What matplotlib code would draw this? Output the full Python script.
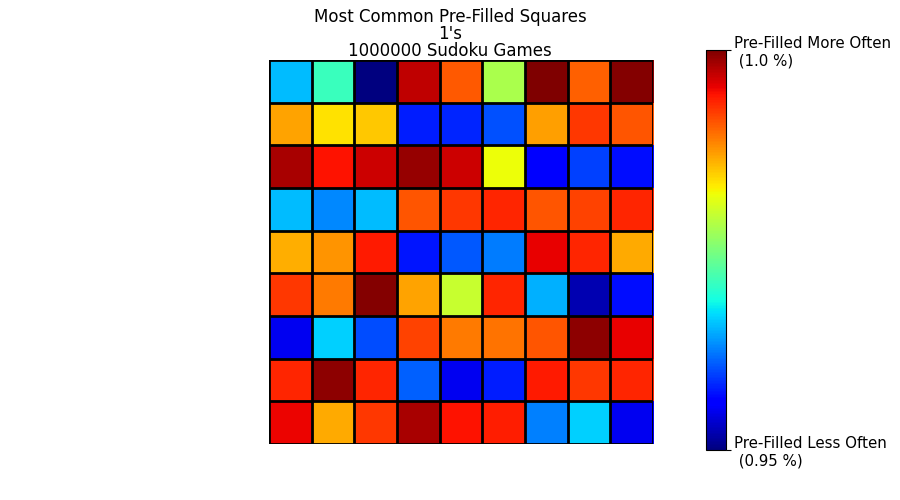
import numpy as np
import matplotlib
matplotlib.use('Agg')
import matplotlib.pyplot as plt

# how often a 1 is pre-filled in each square, % of games
pct = [
    [0.9655, 0.9710, 0.9500, 0.9972, 0.9908, 0.9779, 1.0000, 0.9903, 0.9998],
    [0.9868, 0.9834, 0.9849, 0.9577, 0.9582, 0.9602, 0.9870, 0.9924, 0.9910],
    [0.9982, 0.9945, 0.9965, 0.9990, 0.9965, 0.9820, 0.9560, 0.9595, 0.9570],
    [0.9655, 0.9629, 0.9655, 0.9910, 0.9924, 0.9934, 0.9910, 0.9918, 0.9935],
    [0.9863, 0.9875, 0.9940, 0.9573, 0.9607, 0.9624, 0.9955, 0.9934, 0.9865],
    [0.9924, 0.9890, 0.9998, 0.9868, 0.9795, 0.9935, 0.9650, 0.9523, 0.9570],
    [0.9550, 0.9665, 0.9600, 0.9918, 0.9890, 0.9893, 0.9910, 0.9993, 0.9955],
    [0.9934, 0.9993, 0.9935, 0.9610, 0.9550, 0.9578, 0.9940, 0.9924, 0.9935],
    [0.9953, 0.9865, 0.9924, 0.9982, 0.9945, 0.9938, 0.9625, 0.9665, 0.9550],
]
digit = "1's"
n_games = 1000000

grid = np.array(pct)
lo = grid.min()
hi = grid.max()

fig = plt.figure(figsize=(9, 5), dpi=100)
ax = fig.add_axes([268/900, 56/500, 386/900, 384/500])
cax = fig.add_axes([706/900, 50/500, 20/900, 400/500])

im = ax.imshow(grid, cmap='jet', vmin=lo, vmax=hi, interpolation='nearest')
# cell borders
for i in range(10):
    ax.axhline(i - 0.5, color='k', lw=2)
    ax.axvline(i - 0.5, color='k', lw=2)
ax.set_xlim(-0.5, 8.5)
ax.set_ylim(8.5, -0.5)
ax.axis('off')

cb = fig.colorbar(im, cax=cax, ticks=[lo, hi])
cb.ax.set_yticklabels(['Pre-Filled Less Often\n (' + str(round(lo, 2)) + ' %)',
                       'Pre-Filled More Often\n (' + str(round(hi, 2)) + ' %)'])
cb.ax.tick_params(labelsize=10.8, pad=2.5)

fig.suptitle('Most Common Pre-Filled Squares\n' + digit + '\n' + str(n_games) + ' Sudoku Games',
             fontsize=12, y=0.985, linespacing=0.93)

fig.savefig('out.png', dpi=100)
